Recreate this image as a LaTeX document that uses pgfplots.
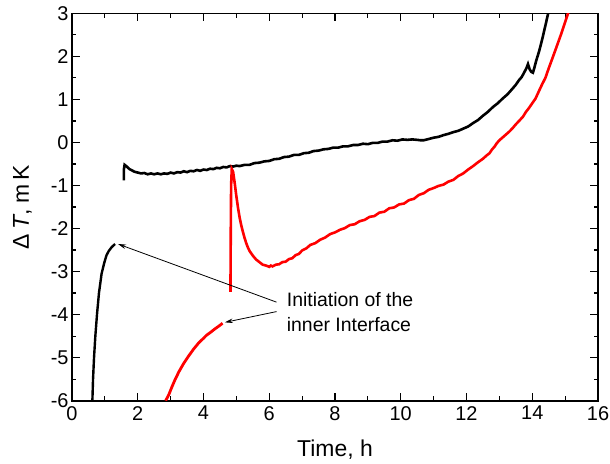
\documentclass[border=0pt]{standalone}
\usepackage{fontspec}
\setmainfont{Liberation Sans}
\usepackage{pgfplots}
\pgfplotsset{compat=1.18}
\usetikzlibrary{arrows.meta}
\begin{document}
\begin{tikzpicture}
\begin{axis}[
  scale only axis, width=526bp, height=387.4bp,
  xmin=0, xmax=16, ymin=-6, ymax=3,
  xtick={0,2,...,16}, ytick={-6,-5,...,3},
  minor x tick num=1, minor y tick num=1,
  tick pos=both, tick align=inside,
  major tick length=8bp, minor tick length=4.5bp,
  axis line style={line width=1.6bp},
  every tick/.style={line width=1.2bp, black},
  /pgf/number format/assume math mode=true,
  ticklabel style={font=\fontsize{20}{22}\selectfont},
  xticklabel style={yshift=-2bp},
  label style={font=\fontsize{23}{26}\selectfont},
  xlabel={Time, h},
  ylabel={Δ\,\textit{T}, m\,K},
  xlabel style={yshift=-13bp},
  ylabel style={yshift=12bp},
]
% black, early rise
\addplot[black, line width=2.4bp] coordinates {
(0.62,-6.0)(0.64,-5.5)(0.67,-5.0)(0.71,-4.5)(0.76,-4.0)(0.82,-3.5)(0.90,-3.05)
(0.98,-2.8)(1.05,-2.62)(1.12,-2.52)(1.2,-2.44)(1.28,-2.38)(1.31,-2.36)};
% black, main
\addplot[black, line width=2.6bp] coordinates {
(1.58,-0.88)(1.58,-0.62)(1.60,-0.52)(1.65,-0.55)(1.75,-0.62)(1.9,-0.68)(2.0,-0.70)
(2.1,-0.72)(2.2,-0.71)(2.3,-0.74)(2.4,-0.72)(2.5,-0.74)(2.6,-0.72)(2.7,-0.74)(2.8,-0.72)
(2.9,-0.73)(3.0,-0.70)(3.1,-0.72)(3.2,-0.69)(3.3,-0.70)(3.4,-0.67)(3.5,-0.69)(3.6,-0.66)
(3.7,-0.67)(3.8,-0.64)(3.9,-0.66)(4.0,-0.63)(4.1,-0.64)(4.2,-0.61)(4.3,-0.62)(4.4,-0.59)
(4.5,-0.60)(4.6,-0.57)(4.7,-0.58)(4.8,-0.55)(4.9,-0.56)(5.0,-0.54)(5.1,-0.55)(5.25,-0.52)
(5.4,-0.52)(5.55,-0.48)(5.7,-0.47)(5.85,-0.44)(6.0,-0.43)(6.15,-0.39)(6.3,-0.38)(6.45,-0.34)
(6.6,-0.33)(6.75,-0.29)(6.9,-0.29)(7.05,-0.25)(7.2,-0.24)(7.35,-0.20)(7.5,-0.19)(7.65,-0.16)
(7.8,-0.15)(7.95,-0.12)(8.1,-0.12)(8.25,-0.09)(8.4,-0.09)(8.55,-0.06)(8.7,-0.06)(8.85,-0.03)
(9.0,-0.04)(9.15,-0.01)(9.3,-0.01)(9.45,0.02)(9.6,0.02)(9.75,0.05)(9.9,0.04)(10.05,0.07)
(10.2,0.06)(10.35,0.07)(10.5,0.06)(10.6,0.05)(10.7,0.05)(10.85,0.08)(11.0,0.11)(11.15,0.13)
(11.3,0.17)(11.45,0.20)(11.6,0.24)(11.75,0.27)(11.9,0.32)(12.05,0.37)(12.2,0.45)(12.35,0.52)
(12.5,0.62)(12.65,0.71)(12.8,0.82)(12.95,0.91)(13.1,1.02)(13.25,1.12)(13.4,1.25)(13.5,1.34)
(13.6,1.45)(13.68,1.52)(13.75,1.62)(13.82,1.72)(13.87,1.82)(13.92,1.70)(13.97,1.64)(14.02,1.62)
(14.07,1.75)(14.12,1.9)(14.17,2.02)(14.22,2.15)(14.27,2.30)(14.32,2.45)(14.37,2.62)(14.42,2.78)
(14.46,2.92)(14.5,3.05)(14.55,3.25)};
% red, early rise
\addplot[red, line width=2.8bp] coordinates {
(2.85,-6.0)(2.95,-5.85)(3.05,-5.66)(3.13,-5.52)(3.25,-5.33)(3.4,-5.13)(3.54,-4.97)
(3.7,-4.80)(3.85,-4.66)(4.0,-4.55)(4.09,-4.48)(4.2,-4.42)(4.35,-4.33)(4.48,-4.26)(4.58,-4.20)};
% red, main
\addplot[red, line width=2.6bp] coordinates {
(4.82,-3.47)(4.83,-2.0)(4.84,-1.0)(4.86,-0.62)(4.9,-0.68)(4.95,-0.95)(5.0,-1.25)
(5.05,-1.52)(5.1,-1.75)(5.15,-1.93)(5.2,-2.08)(5.25,-2.22)(5.3,-2.34)(5.35,-2.44)
(5.4,-2.52)(5.5,-2.63)(5.6,-2.72)(5.7,-2.78)(5.8,-2.84)(5.9,-2.86)(6.0,-2.89)(6.05,-2.86)
(6.1,-2.88)(6.2,-2.84)(6.3,-2.83)(6.4,-2.78)(6.5,-2.77)(6.6,-2.71)(6.7,-2.69)(6.8,-2.62)
(6.9,-2.59)(7.0,-2.51)(7.13,-2.46)(7.25,-2.38)(7.4,-2.34)(7.55,-2.26)(7.7,-2.21)(7.85,-2.13)
(8.0,-2.09)(8.15,-2.03)(8.3,-1.99)(8.45,-1.92)(8.6,-1.90)(8.75,-1.83)(8.9,-1.80)(9.05,-1.73)
(9.2,-1.71)(9.35,-1.63)(9.5,-1.61)(9.65,-1.53)(9.8,-1.51)(9.95,-1.44)(10.1,-1.42)(10.25,-1.34)
(10.4,-1.31)(10.55,-1.22)(10.7,-1.18)(10.85,-1.10)(11.0,-1.06)(11.15,-1.01)(11.3,-0.98)
(11.45,-0.91)(11.6,-0.87)(11.75,-0.78)(11.9,-0.72)(12.05,-0.63)(12.2,-0.55)(12.35,-0.46)
(12.5,-0.38)(12.6,-0.31)(12.7,-0.25)(12.78,-0.16)(12.85,-0.10)(12.92,-0.02)(13.0,0.05)
(13.15,0.15)(13.3,0.25)(13.4,0.33)(13.5,0.42)(13.6,0.50)(13.72,0.60)(13.8,0.70)(13.9,0.80)
(14.0,0.91)(14.1,1.02)(14.22,1.22)(14.3,1.35)(14.4,1.50)(14.5,1.72)(14.63,1.99)(14.72,2.18)
(14.8,2.35)(14.88,2.52)(14.95,2.68)(15.02,2.84)(15.09,3.0)(15.15,3.15)};
% annotation
\node[anchor=west, align=left, inner sep=0pt, font=\fontsize{19.5}{24.5}\selectfont]
  at (axis cs:6.53,-3.94) {Initiation of the\\inner Interface};
\draw[-{Stealth[length=8bp,width=4.5bp]}, line width=0.8bp]
  (axis cs:6.22,-3.71) -- (axis cs:1.40,-2.36);
\draw[-{Stealth[length=8bp,width=4.5bp]}, line width=0.8bp]
  (axis cs:6.22,-3.93) -- (axis cs:4.65,-4.18);
\end{axis}
\pgfresetboundingbox
\path[use as bounding box] (-72bp,-63.3bp) rectangle (538bp,400.7bp);
\end{tikzpicture}
\end{document}
